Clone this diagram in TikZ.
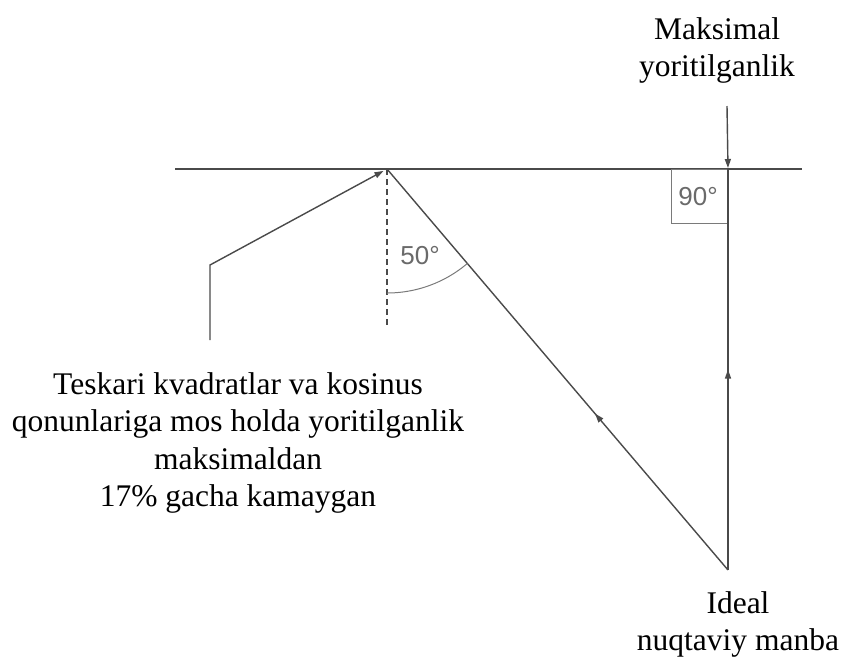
\documentclass[tikz,border=0pt]{standalone}
\usepackage{fontspec}
\setmainfont{Liberation Serif}
\newfontfamily\labfont{Liberation Sans}
\usetikzlibrary{arrows.meta,decorations.markings}
\definecolor{linec}{HTML}{4A4A4A}
\definecolor{lightc}{HTML}{7A7A7A}
\definecolor{labc}{HTML}{6A6A6A}
\tikzset{
  ray/.style={draw=linec, line width=1.4pt},
  tip/.style={-{Triangle[length=9pt,width=6pt]}},
  midarrow/.style={postaction={decorate}, decoration={markings,
     mark=at position #1 with {\arrow{Triangle[length=9pt,width=6pt]}}}},
  caption/.style={font=\fontsize{31.5}{37.5}\selectfont, align=center, inner sep=0pt, text=black},
  anglab/.style={font=\labfont\fontsize{26}{28}\selectfont, text=labc, inner sep=0pt},
}
\begin{document}
\begin{tikzpicture}[x=1pt,y=-1pt]
\useasboundingbox (0,0) rectangle (842,657);
% key points
\coordinate (L) at (175,169);
\coordinate (Rt) at (802,169);
\coordinate (R) at (387,169);
\coordinate (T) at (728,169);
\coordinate (S) at (728,570);
\coordinate (Atop) at (727,106);
\coordinate (P1) at (210,340);
\coordinate (P2) at (210,265);
\coordinate (D) at (387,328);
% surface
\draw[draw=linec, line width=2pt] (L) -- (Rt);
% right-angle box
\draw[draw=lightc, line width=1pt] (671,169) rectangle (727,223);
\node[anglab] (n90) at (698,197) {90°};
% rays
\draw[ray, midarrow=0.5] (S) -- (T);
\draw[ray, midarrow=0.39] (S) -- (R);
\draw[ray, tip, shorten >=1pt] (Atop) -- (T);
\draw[ray, tip, shorten >=4pt] (P1) -- (P2) -- (R);
% normal
\draw[draw=linec, line width=2pt, dash pattern=on 6pt off 4pt] (R) -- (D);
% angle arc
\draw[draw=lightc, line width=1pt] plot[domain=90:49.6, samples=40] ({387+124*cos(\x)},{169+124*sin(\x)});
\node[anglab] (n50) at (420,256) {50°};
% labels
\node[caption, anchor=north] (tl) at (717,17) {Maksimal\\yoritilganlik};
\node[caption, anchor=north] (bl) at (738,591) {Ideal\\nuqtaviy manba};
\node[caption, anchor=north] (ll) at (238,372) {Teskari kvadratlar va kosinus\\qonunlariga mos holda yoritilganlik\\maksimaldan\\17\%\ gacha kamaygan};
\end{tikzpicture}
\end{document}
